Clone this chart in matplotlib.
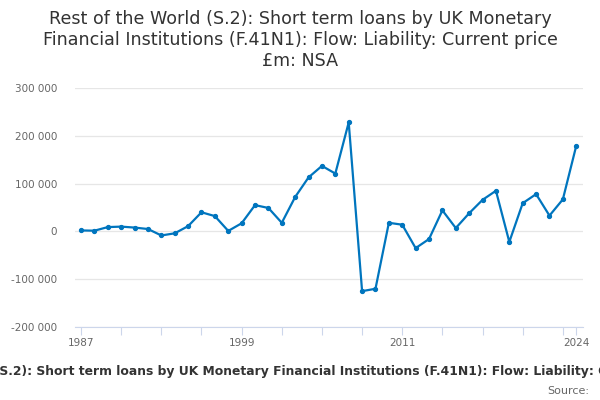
import matplotlib
matplotlib.use("Agg")
import matplotlib.pyplot as plt
from matplotlib.ticker import FuncFormatter

# annual flows, £m
years = list(range(1987, 2025))
values = [2000, 1500, 9000, 10000, 8000, 5000, -8500, -4000, 11000, 40000,
          32000, 1000, 17000, 55000, 49000, 18000, 72000, 113000, 137000, 121000,
          228000, -125000, -120000, 18000, 14000, -35000, -16000, 44000, 7000, 38000,
          66000, 85000, -22000, 59000, 78000, 33000, 67000, 179000]

x_ticks = list(range(1987, 2024, 3)) + [2024]
x_labels = {1987: "1987", 1999: "1999", 2011: "2011", 2024: "2024"}
y_ticks = [-200000, -100000, 0, 100000, 200000, 300000]

title = ("Rest of the World (S.2): Short term loans by UK Monetary\n"
         "Financial Institutions (F.41N1): Flow: Liability: Current price\n"
         "£m: NSA")
cap_prefix = "Rest of the World ("
caption = ("Rest of the World (S.2): Short term loans by UK Monetary Financial "
           "Institutions (F.41N1): Flow: Liability: Current price £m: NSA")

fig = plt.figure(figsize=(6, 4), dpi=100)
ax = fig.add_axes([0.125, 0.1825, 0.847, 0.5975])

ax.plot(years, values, color="#0075be", lw=1.6, marker="o", ms=2.8,
        solid_joinstyle="round")

ax.set_xlim(1986.55, 2024.52)
ax.set_ylim(-200000, 300000)
ax.set_yticks(y_ticks)
ax.yaxis.set_major_formatter(FuncFormatter(lambda v, p: f"{int(v):,}".replace(",", " ")))
ax.set_xticks(x_ticks)
ax.set_xticklabels([x_labels.get(y, "") for y in x_ticks])

ax.grid(axis="y", color="#e6e6e6", lw=0.9)
ax.set_axisbelow(True)
for s in ["top", "right", "left"]:
    ax.spines[s].set_visible(False)
ax.spines["bottom"].set_color("#ccd6eb")
ax.tick_params(axis="y", length=0, labelsize=7.5, labelcolor="#666666", pad=13)
ax.tick_params(axis="x", length=6, color="#ccd6eb", labelsize=7.5,
               labelcolor="#666666", pad=2)

fig.text(0.5, 0.975, title, ha="center", va="top", fontsize=12.6,
         color="#333333", linespacing=1.22)

# caption overflows the figure; shift it so "S.2)" starts at the left edge
cap_style = dict(fontsize=8.9, fontweight="bold", color="#333333")
renderer = fig.canvas.get_renderer()
probe = fig.text(0, 0, cap_prefix, **cap_style)
prefix_w = probe.get_window_extent(renderer).width
probe.remove()
fig.text((-1 - prefix_w) / 600, 0.07, caption, ha="left", va="center", **cap_style)
fig.text(0.982, 0.022, "Source:", ha="right", va="center", fontsize=8,
         color="#666666")

fig.savefig("out.png", dpi=100)
